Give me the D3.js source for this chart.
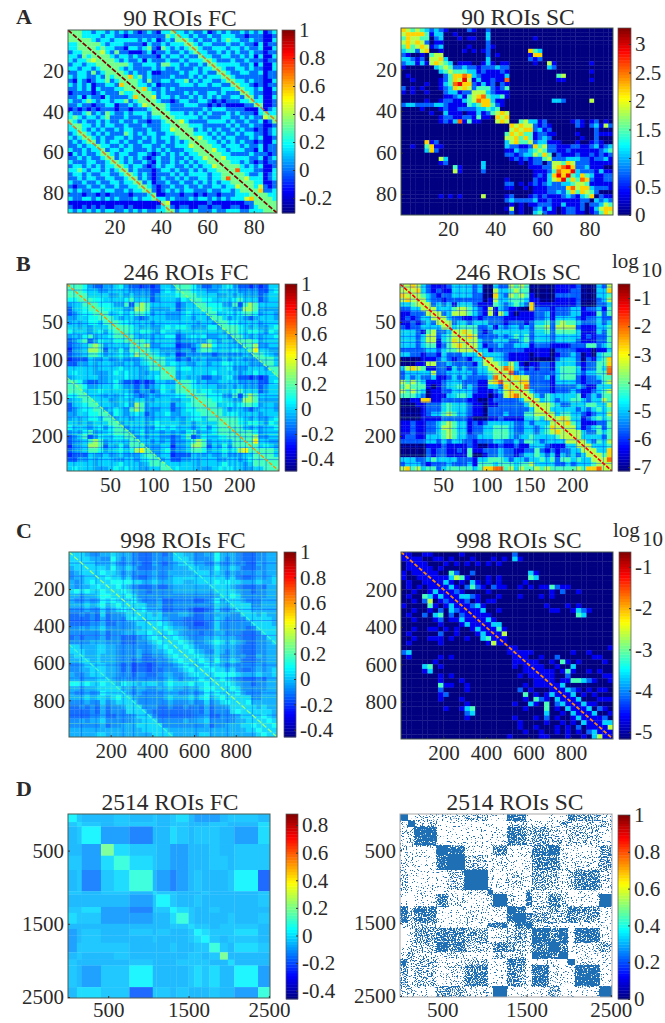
<!DOCTYPE html>
<html>
<head>
<meta charset="utf-8">
<title>FC and SC matrices</title>
<style>
body { margin: 0; background: #fff; }
text { font-family: "Liberation Serif", serif; fill: #2a2a2a; }
.tick text { font-size: 21px; }
.tick line { stroke: #333; }
.domain { display: none; }
.heat { filter: blur(0.5px); }
</style>
<script src="https://d3js.org/d3.v7.min.js"></script>
</head>
<body>
<script>
// every matrix is symmetric, so only the lower triangle is kept. one digit per cell,
// the digit picks a value out of that panel's levels list. spaces are only for counting.
var aFcRows = ["9","79","469","3379","33479","23348 9","33243 79","32334 579","23323 3479","33233 23469",
"22332 42347 9","32332 23243 79","21321 23342 379","32323 12233 2679","22323 13222 33479","12222 12322 24337 9",
"22313 22132 22236 79","32234 32332 33423 479","22322 12233 12232 3579","12121 21222 12212 22379",
"32234 23243 22323 33247 9","34323 32342 22322 23233 79","53232 23232 23223 22122 379","36433 23233 22322 23222 3379",
"33732 32322 32332 22322 33579","23463 23232 22432 32332 23346 9","32346 32322 33232 23232 33234 79",
"23234 62323 32322 32232 23232 379","22323 37332 23232 23322 32233 3579","32232 33723 32332 22323 23222 33469",
"13232 23463 23322 33212 32323 23347 9","22323 22346 23232 32123 22322 32335 79","32223 32236 73232 23213 22323 23233 479",
"23323 23233 47323 32123 23322 32323 3579","33432 33232 34623 22212 33232 23232 33469","23323 22332 23463 23212 22323 23333 23347 9",
"22323 32233 22346 23212 32232 32233 23347 79","32232 23223 32335 72312 23223 22323 23233 479","21223 22322 32233 46321 22322 32232 23323 3579",
"32322 33233 22323 34721 23232 33222 32233 23479","22212 21212 22212 22361 12221 22121 22122 23334 9","32233 23232 32223 23373 32322 23233 23232 33356 79",
"11111 11111 11111 11111 65111 11111 21111 11122 479","21121 21211 22121 11112 37212 21122 12211 22112 3479","32323 23233 22323 23223 34623 32322 23223 33223 33469"];
var aFcLevels = [-0.31,-0.16,0,0.17,0.33,0.45,0.58,0.72,0.85,1];

var aScRows = ["6","56","465","5656","46456","34425 6","21001 04","33212 055","23313 1565","10000 00345",
"00000 00034 5","01000 00002 46","00100 00012 465","00000 10013 4786","20101 00012 36565","10100 10002 33122 5",
"00000 00001 12314 56","00000 10012 21134 576","23322 22332 11114 3466","00001 00012 11222 23343",
"00000 01003 11101 13124 5","00000 00012 21122 14110 65","00000 00012 13714 11000 565",
"00000 00000 00000 00000 0006","00000 00000 00000 00000 00056","00000 00000 00000 00000 00465 6","00000 00000 00000 00000 00556 46",
"00000 61200 00000 00000 00356 445","00100 46110 00000 00000 00322 1126","00000 36200 00000 00000 00113 22345",
"00000 00000 00000 00000 00221 23354 6","00000 00053 00000 00000 00012 12122 45","00000 00012 00000 00300 00000 10122 025",
"00000 00000 04100 00300 00000 00111 2256","00000 00000 05100 00200 00000 00011 12476","00000 00000 00000 00000 00000 00012 13686 8",
"00000 00000 00000 00000 00100 00021 13568 46","00000 00000 00000 00000 00220 10121 23223 345","00000 00000 00000 00000 00110 01011 12222 6756",
"00000 00000 00000 00000 00000 00011 12232 46465","00000 00010 10100 00500 00120 00121 21112 32134 6","00000 00000 00000 00000 00232 22231 12111 11122 03",
"00000 00000 00000 00000 00010 10112 22113 11120 223","00000 00000 00000 00000 00150 10023 13101 22120 1356","00000 00000 00000 00000 00020 10034 21101 22110 12465"];
var aScLevels = [0,0.36,0.73,1.09,1.46,1.82,2.19,2.55,2.92,3.28];

var bFcRows = ["9","79","669","5569","34469","24456 9","23455 79","33445 569","34345 5469","44343 44469",
"54443 45356 9","34356 34456 79","23462 35445 569","23346 76344 4479","13347 76243 53679","23346 65344 54578 9",
"12224 33433 43334 79","22334 34443 34434 569","44444 34444 54443 4679","45444 33345 45443 34469","34444 43344 45443 44566 9",
"76532 23345 32212 12443 39","67653 34445 43323 23454 479","66744 45444 44323 32354 3669","55674 44343 45432 34344 45569",
"34467 44433 44344 33444 33446 9","24456 74443 45376 34444 24456 79","23455 67345 43676 33344 23455 679","33445 56735 43454 23445 33445 5679",
"34345 54673 44344 33444 34345 54679","44343 44467 34444 34544 44343 44446 9","54443 45356 73444 33554 54443 45356 79",
"34356 34456 67345 34434 34356 34456 679","23462 35445 56734 34433 23462 35445 5679","23346 76344 44674 43434 23346 76344 44679",
"13347 76243 53667 33344 13347 76243 53667 9","23346 65344 54578 73345 23346 65344 54578 79","12224 33433 43334 67344 12224 33433 43334 479",
"22334 34443 34434 56734 22334 34443 34434 5669","44444 34444 54443 46674 44444 34444 54443 46679","45444 33345 45443 34467 45444 33345 45443 34468 9"];
var bFcLevels = [-0.35,-0.25,-0.17,-0.07,0,0.08,0.16,0.3,0.45,0.75];
var bFcDark = [8,24,40,52,66,72,78,84,92,100,108,131,147,163,175,189,195,201,207,215,223,231];
var bFcLight = [16,32,58,62,75,88,96,139,155,181,185,198,211,219];

var bScRows = ["8","88","678","5678","33458","22337 8","11222 78","12123 378","11212 3278","21223 33378",
"33321 45223 8","33323 55234 78","33323 55134 678","33323 44124 5678","22222 33234 45578","33221 22132 22333 8",
"00001 11232 12213 38","00011 55223 22221 378","35654 11221 32322 3378","23333 35223 33332 33478","23232 23112 32322 22378 8",
"54543 11123 33222 11567 78","45444 10123 34232 11332 678","54543 01122 33332 11123 5678","44432 01113 34431 11012 56778",
"00116 61122 22211 00122 22237 8","00011 22234 33321 10112 22223 78","00001 22234 33321 10222 22222 378","00001 23345 43321 10222 32224 4578",
"00001 11122 22210 00112 11113 34378","11211 22345 43312 12333 33223 23337 8","11211 22355 43312 23344 43223 32346 78",
"11211 22345 43312 23344 43223 32345 678","12211 33345 43322 33344 43233 43333 4578","22222 33232 33221 22233 22324 43233 33578",
"00000 11121 11121 00112 11211 33321 11337 8","00000 21221 12141 12223 22112 24212 12233 78","00000 21221 11140 01223 22123 34323 13232 378",
"33322 34333 32221 33444 32332 33434 24434 3378","23332 12223 22231 44434 44344 53333 22323 33478","56453 44234 44443 46677 45354 45454 44445 46678 8"];
var bScLevels = [-7.14,-6.4,-5.66,-4.93,-4.19,-3.45,-2.71,-1.98,-1.24,-0.5];
var bScDark = [4,12,20,35,44,58,69,77,85,96,118,128,140,155,170,180,190,205,214,236];
var bScLight = [28,50,63,74,102,110,135,160,176,196,225];

var cFcRows = ["9","79","569","4579","34579","34456 9","43456 79","43445 689","56565 5679","44344 56679",
"43343 46567 9","44454 56456 79","33343 35345 679","22323 25233 4589","22223 24233 35689","22223 34223 33457 9",
"33434 45333 33445 79","33333 34233 44455 679","23233 34233 22234 5679","33334 44333 22233 45689","75444 55443 33333 34567 9",
"57544 55443 33343 34456 79","45744 54443 33342 23345 679","44574 54443 33232 22334 5679","33457 55443 23122 12333 45679",
"33446 75443 23122 12233 34568 9","43345 57443 33233 22344 33456 79","44344 55743 43333 33345 43445 679","66565 56774 65545 55456 55565 5679",
"44344 55567 44344 33445 44344 56679","43343 46557 74343 33344 43343 46567 9","44454 55456 67433 33345 44454 56456 79",
"33343 35345 56733 33334 33343 35345 679","22323 24233 45673 33223 22323 24233 4579","22223 24233 35567 32222 22223 24233 35679",
"22223 34223 33457 73222 22223 34223 33457 9","33434 45333 33445 67333 33434 45333 33445 79","33333 34233 44455 56733 33333 34233 44455 679",
"44444 44444 44445 55674 44444 44444 44445 5679","44444 55444 44444 45567 44444 55444 44444 45679"];
var cFcLevels = [-0.25,-0.18,-0.13,-0.08,-0.03,0.03,0.1,0.18,0.28,0.42];
var cFcDark = [60,130,260,310,370,450,610,680,760,880];
var cFcLight = [205,235,285,330,420,480,560,590,700,735,785,830,925];

var cScRows = ["5","45","017","0137","10137","10013 7","01001 37","01010 137","00100 1357","01004 31347",
"00102 50123 7","10000 41013 47","00100 10203 237","01002 03402 0237","00100 01201 13137","00000 00100 01314 7",
"00100 11010 10013 57","01000 00200 10001 367","00100 11101 00100 3457","01000 00100 00000 01567","00000 00000 00000 00000 5",
"23000 00000 00000 00000 35","01000 00101 00000 00000 037","00000 01000 00000 00000 0137","00003 40100 00000 00000 01037",
"00001 30000 00000 00000 00013 7","00000 00101 00000 00000 00101 37","00000 00100 01000 00000 00000 137","00000 00411 00100 00000 00010 1147",
"00000 00200 00100 00000 00201 00047","00000 00120 00000 00000 00040 10134 7","00000 00100 01000 00000 00010 42103 47",
"00000 00000 00100 00000 01003 10402 357","00000 00010 01340 00000 00010 00401 0347","00000 00000 00230 00000 00000 00300 10357",
"00000 00000 00100 00000 01000 10201 00134 7","00000 00000 00000 00000 00100 00100 10103 37","00000 00000 00000 00000 00100 10001 01020 137",
"00000 00000 00000 00000 00010 01001 01010 2357","00000 00000 00000 00000 10000 01100 01001 03567"];
var cScLevels = [-5.17,-4.67,-4.16,-3.66,-3.16,-2.65,-2.15,-1.65,-1.14,-0.64];

// the 2514 panels are read as blocks with uneven edges
var dFcEdges = [0,110,170,410,570,765,1055,1100,1270,1350,1500,1570,1660,1760,1890,1990,2070,2365,2514];
var dFcRows = ["7","56","457","4439","55368","452568","5545546","44444357","556332557","6553334468",
"44444444556","345445454457","3454445444567","35555444544558","454454444455459","5444454445555446",
"54355744445656447","466551554544454438"];
var dFcLevels = [-0.24,-0.18,-0.14,-0.1,-0.06,-0.04,-0.01,0.03,0.09,0.19];

// digit here is how densely the block is filled, 9 = solid
var dScEdges = [0,90,170,430,560,765,1040,1100,1270,1360,1490,1565,1760,1890,1990,2070,2365,2514];
var dScRows = ["9","19","227","2119","21169","311139","1111129","10152129","726112129","6351121169",
"12311156159","245541234 27","1237532543259","14222113231759","623113116511109","42312511541621 17","23144219111141119"];

var panels = [
  {title:"90 ROIs FC", rows:aFcRows, levels:aFcLevels, size:2, n:90, ticks:[20,40,60,80], box:[68,277,30,213], bar:[282,295,30,213], range:[-0.307,1], barTicks:[-0.2,0,0.2,0.4,0.6,0.8,1], tx:180, ty:26,
    diag:{main:1, second:0.72, cap:4, gap:22.5, width:1.7, dash:"5 1.5"}},
  {title:"90 ROIs SC", rows:aScRows, levels:aScLevels, size:2, n:90, ticks:[20,40,60,80], box:[401,613,28,215], bar:[618,631,28,215], range:[0,3.28], barTicks:[0,0.5,1,1.5,2,2.5,3], tx:518, ty:25},
  {title:"246 ROIs FC", rows:bFcRows, levels:bFcLevels, dark:bFcDark, light:bFcLight, size:6, n:246, ticks:[50,100,150,200], box:[67,279,284,471], bar:[285,297,284,471], range:[-0.496,1], barTicks:[-0.4,-0.2,0,0.2,0.4,0.6,0.8,1], tx:186, ty:280,
    diag:{main:0.6, second:0.32, cap:6, gap:20.5, width:1.3, dash:"4 1.5"}},
  {title:"246 ROIs SC", rows:bScRows, levels:bScLevels, dark:bScDark, light:bScLight, size:6, n:246, ticks:[50,100,150,200], box:[400,612,284,471], bar:[618,630,284,471], range:[-7.14,-0.5], barTicks:[-7,-6,-5,-4,-3,-2,-1], tx:518, ty:280, log:268,
    diag:{main:-1.3, cap:5, width:1.6, dash:"4 1.5"}},
  {title:"998 ROIs FC", rows:cFcRows, levels:cFcLevels, dark:cFcDark, light:cFcLight, size:24.95, n:998, ticks:[200,400,600,800], box:[69,277,552,737], bar:[284,296,552,737], range:[-0.457,1], barTicks:[-0.4,-0.2,0,0.2,0.4,0.6,0.8,1], tx:183, ty:548, soft:0.92,
    diag:{main:0.28, second:0.18, cap:5, gap:20, width:1.4, dash:"5 2"}},
  {title:"998 ROIs SC", rows:cScRows, levels:cScLevels, size:24.95, n:998, ticks:[200,400,600,800], box:[401,613,552,739], bar:[619,631,552,739], range:[-5.17,-0.64], barTicks:[-5,-4,-3,-2,-1], tx:519, ty:548, log:537,
    diag:{main:-1.8, cap:1, width:1.8, dash:"4 2"}},
  {title:"2514 ROIs FC", rows:dFcRows, levels:dFcLevels, edges:dFcEdges, n:2514, ticks:[500,1500,2500], box:[68,270,814,998], bar:[286,298,814,999], range:[-0.46,0.88], barTicks:[-0.4,-0.2,0,0.2,0.4,0.6,0.8], tx:170, ty:810, soft:0.87, xPad:4},
  {title:"2514 ROIs SC", rows:dScRows, edges:dScEdges, n:2514, ticks:[500,1500,2500], box:[400,612,814,997], bar:[618,630,815,999], range:[0,1], barTicks:[0,0.2,0.4,0.6,0.8,1], tx:515, ty:810, speckle:true, xPad:5}
];
var letters = [["A",24],["B",271],["C",538],["D",796]];

var jet = d3.scaleLinear()
    .domain([0,0.125,0.375,0.625,0.875,1])
    .range(["#000080","#0000ff","#00ffff","#ffff00","#ff0000","#800000"]);

var svg = d3.select("body").append("svg")
    .attr("width", 665)
    .attr("height", 1023);
var defs = svg.append("defs");

// turns the block density into blue specks
var sp = defs.append("filter").attr("id","speckle")
    .attr("x",0).attr("y",0).attr("width","100%").attr("height","100%")
    .attr("color-interpolation-filters","sRGB");
sp.append("feTurbulence").attr("type","fractalNoise").attr("baseFrequency",0.8).attr("numOctaves",2).attr("seed",4).attr("result","n");
sp.append("feColorMatrix").attr("in","n").attr("type","matrix")
    .attr("values","0 0 0 0 0  0 0 0 0 0  0 0 0 0 0  2.6 0 0 0 -0.8").attr("result","m");
sp.append("feComposite").attr("in","SourceAlpha").attr("in2","m").attr("operator","arithmetic")
    .attr("k1",0).attr("k2",10).attr("k3",8).attr("k4",-8).attr("result","t");
sp.append("feFlood").attr("flood-color","#1f6fb5");
sp.append("feComposite").attr("in2","t").attr("operator","in");
sp.append("feGaussianBlur").attr("stdDeviation",0.35);

function cellsOf(p) {
  var edges = p.edges || d3.range(p.rows.length + 1).map(function(i) { return i * p.size; });
  var cells = [];
  p.rows.forEach(function(raw, i) {
    var row = raw.replace(/ /g,"").padStart(i + 1, "0").slice(-(i + 1));
    for (var j = 0; j <= i; j++) {
      var d = +row[j];
      // the thin diagonals are drawn on top, keep the coarse cells under them quiet
      if (p.diag && (i - j <= 1 || (p.diag.gap && Math.abs(i - j - p.diag.gap) <= 1))) d = Math.min(d, p.diag.cap);
      cells.push({i:i, j:j, d:d});
      if (i != j) cells.push({i:j, j:i, d:d});
    }
  });
  cells.forEach(function(c) {
    c.x0 = edges[c.j]; c.x1 = edges[c.j + 1];
    c.y0 = edges[c.i]; c.y1 = edges[c.i + 1];
  });
  return cells;
}

panels.forEach(function(p, k) {
  var x = d3.scaleLinear().domain([0,p.n]).range([p.box[0],p.box[1]]);
  var y = d3.scaleLinear().domain([0,p.n]).range([p.box[2],p.box[3]]);
  var value = d3.scaleLinear().domain(p.range).range([0,1]);
  var g = svg.append("g");

  defs.append("clipPath").attr("id","clip" + k).append("rect")
      .attr("x",p.box[0]).attr("y",p.box[2])
      .attr("width",p.box[1] - p.box[0]).attr("height",p.box[3] - p.box[2]);

  var heat = g.append("g").attr("clip-path","url(#clip" + k + ")").append("g");
  if (p.speckle) heat.attr("filter","url(#speckle)");
  else heat.attr("class","heat");
  if (p.soft) heat.attr("opacity",p.soft);
  heat.selectAll("rect")
      .data(cellsOf(p))
    .enter().append("rect")
      .attr("x", function(c) { return x(c.x0); })
      .attr("y", function(c) { return y(c.y0); })
      .attr("width", function(c) { return x(c.x1) - x(c.x0) + 0.3; })
      .attr("height", function(c) { return y(c.y1) - y(c.y0) + 0.3; })
      .attr("fill", function(c) { return p.speckle ? "#000" : jet(value(p.levels[c.d])); })
      .attr("fill-opacity", function(c) { return p.speckle ? c.d / 9 : 1; });

  // single ROIs that stand out as thin stripes across the matrix
  [[p.dark,0.16,0.4],[p.light,0.5,0.3]].forEach(function(s) {
    if (!s[0]) return;
    var stripes = heat.append("g").attr("stroke",jet(s[1])).attr("stroke-opacity",s[2]).attr("stroke-width",1);
    stripes.selectAll("line.v").data(s[0]).enter().append("line").attr("class","v")
        .attr("x1",x).attr("x2",x).attr("y1",p.box[2]).attr("y2",p.box[3]);
    stripes.selectAll("line.h").data(s[0]).enter().append("line").attr("class","h")
        .attr("y1",y).attr("y2",y).attr("x1",p.box[0]).attr("x2",p.box[1]);
  });

  if (p.diag) {
    var gapRoi = p.diag.gap ? p.n / 2 : 0;
    var lines = [[0,0,p.n,p.n,p.diag.main,1]];
    if (gapRoi) {
      lines.push([0,gapRoi,gapRoi,p.n,p.diag.second,0.75]);
      lines.push([gapRoi,0,p.n,gapRoi,p.diag.second,0.75]);
    }
    heat.append("g").selectAll("line").data(lines).enter().append("line")
        .attr("x1", function(l) { return x(l[0]); })
        .attr("y1", function(l) { return y(l[1]); })
        .attr("x2", function(l) { return x(l[2]); })
        .attr("y2", function(l) { return y(l[3]); })
        .attr("stroke", function(l) { return jet(value(l[4])); })
        .attr("stroke-opacity", function(l) { return l[5]; })
        .attr("stroke-dasharray",p.diag.dash)
        .attr("stroke-width",p.diag.width);
  }

  g.append("rect")
      .attr("x",p.box[0]).attr("y",p.box[2])
      .attr("width",p.box[1] - p.box[0]).attr("height",p.box[3] - p.box[2])
      .attr("fill","none")
      .attr("stroke",p.speckle ? "#aaa" : "#4a5a50").attr("stroke-width",1);

  g.append("g").attr("transform","translate(0," + p.box[3] + ")")
      .call(d3.axisBottom(x).tickValues(p.ticks).tickFormat(String).tickSizeInner(-2).tickSizeOuter(0).tickPadding(p.xPad || 6));
  g.append("g").attr("transform","translate(" + p.box[0] + ",0)")
      .call(d3.axisLeft(y).tickValues(p.ticks).tickFormat(String).tickSizeInner(-2).tickSizeOuter(0).tickPadding(4));

  // colorbar
  var by = d3.scaleLinear().domain(p.range).range([p.bar[3],p.bar[2]]);
  var steps = d3.range(0,64);
  var stepV = d3.scaleLinear().domain([0,64]).range(p.range);
  g.append("g").selectAll("rect")
      .data(steps)
    .enter().append("rect")
      .attr("x",p.bar[0])
      .attr("width",p.bar[1] - p.bar[0])
      .attr("y", function(s) { return by(stepV(s + 1)); })
      .attr("height", function(s) { return by(stepV(s)) - by(stepV(s + 1)) + 0.4; })
      .attr("fill", function(s) { return jet((s + 0.5) / 64); });
  g.append("rect")
      .attr("x",p.bar[0]).attr("y",p.bar[2])
      .attr("width",p.bar[1] - p.bar[0]).attr("height",p.bar[3] - p.bar[2])
      .attr("fill","none").attr("stroke","#555").attr("stroke-width",0.7);
  g.append("g").attr("transform","translate(" + p.bar[1] + ",0)")
      .call(d3.axisRight(by).tickValues(p.barTicks).tickFormat(String)
        .tickSizeInner(-2).tickSizeOuter(0).tickPadding(4));

  g.append("text")
      .attr("x",p.tx).attr("y",p.ty)
      .attr("text-anchor","middle")
      .style("font-size","23.5px")
      .text(p.title);

  if (p.log) {
    g.append("text").attr("x",p.bar[0] - 6).attr("y",p.log).style("font-size","21px").text("log");
    g.append("text").attr("x",p.bar[0] + 23).attr("y",p.log + 9).style("font-size","21px").text("10");
  }
});

svg.selectAll("text.letter")
    .data(letters)
  .enter().append("text")
    .attr("class","letter")
    .attr("x",16)
    .attr("y", function(d) { return d[1]; })
    .style("font-size","22px")
    .style("font-weight","bold")
    .text(function(d) { return d[0]; });
</script>
</body>
</html>
